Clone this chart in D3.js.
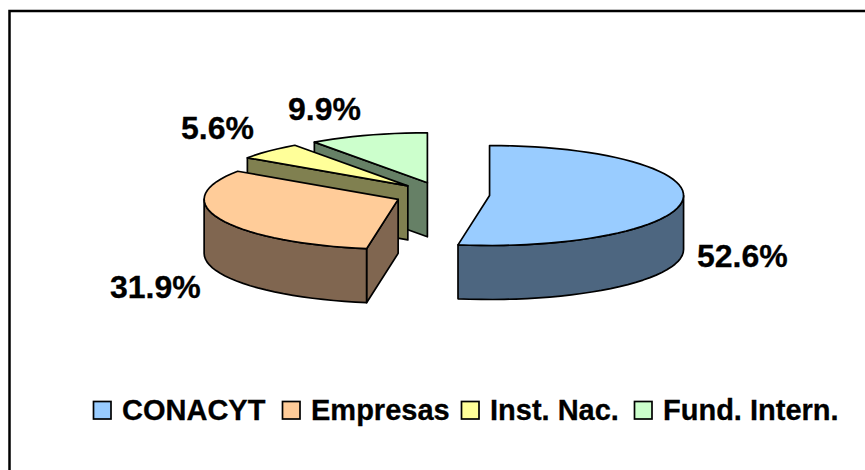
<!DOCTYPE html>
<html>
<head>
<meta charset="utf-8">
<script src="https://cdn.jsdelivr.net/npm/d3@7/dist/d3.min.js"></script>
<style>html,body{margin:0;padding:0;background:#fff;overflow:hidden}svg{display:block}text{font-family:"Liberation Sans",Arial,sans-serif;font-weight:bold;fill:#000;stroke:#000;stroke-width:.3}</style>
</head>
<body>
<script>
const categories = ["CONACYT", "Empresas", "Inst. Nac.", "Fund. Intern."];
const values = [52.6, 31.9, 5.6, 9.9];
const tickLabels = ["52.6%", "31.9%", "5.6%", "9.9%"];
const topColors = ["#99CCFF", "#FFCC99", "#FFFF99", "#CCFFCC"];
const sideColors = ["#4D6680", "#806650", "#808050", "#668066"];

const W = 865, H = 470;
const cx = 442, cy = 194.5, rx = 194, ry = 50, depth = 54, explode = 0.246;

const svg = d3.select("body").append("svg").attr("width", W).attr("height", H);
// Frame: only its top and left edges fall inside the picture
svg.append("rect").attr("x", 9.5).attr("y", 11).attr("width", W + 20).attr("height", H + 20)
  .attr("fill", "#fff").attr("stroke", "#000").attr("stroke-width", 2.5);

const arcs = d3.pie().sort(null).value(d => d)(values);
const line = d3.line().x(d => d[0]).y(d => d[1]);
const sx = d3.scaleLinear().domain([-1, 1]).range([-rx, rx]);
const sy = d3.scaleLinear().domain([-1, 1]).range([-ry, ry]);

function pt(a, c, r, dz) { return [c[0] + sx(Math.sin(a) * r), c[1] - sy(Math.cos(a) * r) + (dz || 0)]; }
function arcPts(a0, a1, c, dz) {
  const n = Math.max(2, Math.ceil((a1 - a0) / 0.06));
  return d3.range(n + 1).map(i => pt(a0 + (a1 - a0) * i / n, c, 1, dz));
}

const g = svg.append("g").attr("stroke", "#000").attr("stroke-width", 1.7).attr("stroke-linejoin", "round");
[3, 2, 1, 0].forEach(i => {
  const s = arcs[i], a0 = s.startAngle, a1 = s.endAngle;
  const mid = (a0 + a1) / 2;
  const c = pt(mid, [cx, cy], explode);
  const sg = g.append("g");
  const startP = pt(a0, c, 1);
  if (i > 0) {
    sg.append("path").attr("fill", sideColors[i])
      .attr("d", line([startP, c, [c[0], c[1] + depth], [startP[0], startP[1] + depth]]) + "Z");
  }
  const fa0 = Math.max(a0, Math.PI / 2), fa1 = Math.min(a1, Math.PI * 1.5);
  if (fa1 > fa0) {
    const upper = arcPts(fa0, fa1, c, 0), lower = arcPts(fa0, fa1, c, depth).reverse();
    sg.append("path").attr("fill", sideColors[i]).attr("d", line(upper.concat(lower)) + "Z");
  }
  sg.append("path").attr("fill", topColors[i])
    .attr("d", line([c].concat(arcPts(a0, a1, c, 0))) + "Z");
});

const labelSize = 32, legendSize = 29;
const labelX = [697, 110, 181, 288], labelY = [267, 298, 139, 120];
tickLabels.forEach((t, i) => {
  svg.append("text").attr("x", labelX[i]).attr("y", labelY[i]).attr("font-size", labelSize).text(t);
});

const legendX = [93.5, 282.5, 461.5, 634.5];
categories.forEach((c, i) => {
  svg.append("rect").attr("x", legendX[i]).attr("y", 401.5).attr("width", 17.5).attr("height", 17.5)
    .attr("fill", topColors[i]).attr("stroke", "#000").attr("stroke-width", 1.7);
  svg.append("text").attr("x", legendX[i] + 28.5).attr("y", 420).attr("font-size", legendSize).text(c);
});
</script>
</body>
</html>
